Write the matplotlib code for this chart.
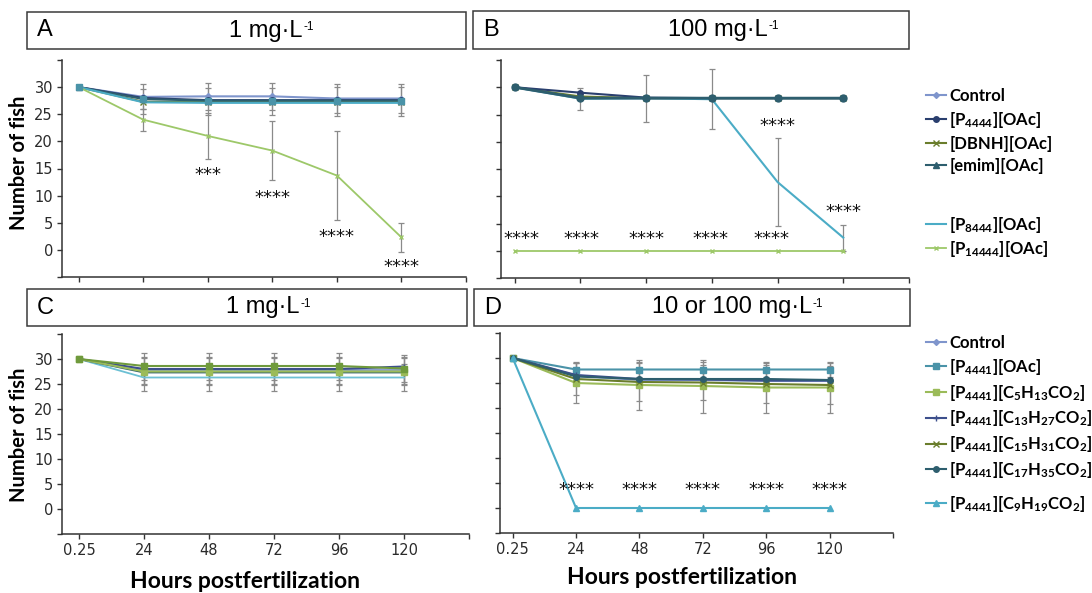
import numpy as np
import matplotlib
matplotlib.use("Agg")
import matplotlib.pyplot as plt
from matplotlib.patches import Rectangle
from matplotlib.text import Annotation

plt.rcParams['mathtext.fontset'] = 'custom'
plt.rcParams['mathtext.rm'] = 'Lato:bold'
plt.rcParams['mathtext.sf'] = 'Liberation Sans'
plt.rcParams['mathtext.default'] = 'rm'

# categorias del eje x (horas postfertilizacion)
hours = ['0.25', '24', '48', '72', '96', '120']

# Panel A: 1 mg/L
a_labels = ['Control', r'[P$_{4444}$][OAc]', '[DBNH][OAc]', '[emim][OAc]',
            r'[P$_{8444}$][OAc]', r'[P$_{14444}$][OAc]']
a_control = [30, 28.2, 28.3, 28.3, 27.9, 27.9]
a_p4444 = [30, 28.0, 27.6, 27.6, 27.6, 27.6]
a_dbnh = [30, 27.3, 27.3, 27.3, 27.3, 27.3]
a_emim = [30, 27.8, 27.5, 27.5, 27.5, 27.5]
a_p8444 = [30, 27.2, 27.1, 27.1, 27.1, 27.1]
a_p14444 = [30, 24.0, 21.0, 18.3, 13.7, 2.3]
a_err_small = [0, 2.3, 2.5, 2.5, 2.7, 2.7]
a_err_p14444 = [0, 2.0, 4.3, 5.5, 8.2, 2.6]

# Panel B: 100 mg/L
b_control = [30, 28.0, 28.0, 28.0, 28.0, 28.0]
b_p4444 = [30, 29.0, 28.1, 28.0, 28.0, 28.0]
b_dbnh = [30, 28.3, 28.0, 28.0, 28.0, 28.0]
b_emim = [30, 28.0, 28.0, 28.0, 28.0, 28.0]
b_p8444 = [30, 27.9, 28.0, 27.8, 12.6, 2.4]
b_p14444 = [0, 0, 0, 0, 0, 0]
b_err_p8444 = [0, 2.0, 4.3, 5.5, 8.0, 2.4]
b_err_small = [0, 0.3, 0.3, 0.3, 0.3, 0.3]

# Panel C: 1 mg/L (sales P4441)
c_control = [30, 27.8, 27.8, 27.8, 27.8, 27.8]
c_oac = [30, 26.3, 26.3, 26.3, 26.3, 26.3]
c_c5 = [30, 27.5, 27.5, 27.5, 27.5, 27.5]
c_c13 = [30, 28.0, 28.0, 28.0, 28.0, 28.5]
c_c15 = [30, 28.6, 28.6, 28.6, 28.6, 28.1]
c_c17 = [30, 27.3, 27.3, 27.3, 27.3, 27.3]
c_err = [0, 2.7, 2.7, 2.7, 2.7, 2.7]

# Panel D: 10 or 100 mg/L
d_labels = ['Control', r'[P$_{4441}$][OAc]', r'[P$_{4441}$][C$_{5}$H$_{13}$CO$_{2}$]',
            r'[P$_{4441}$][C$_{13}$H$_{27}$CO$_{2}$]', r'[P$_{4441}$][C$_{15}$H$_{31}$CO$_{2}$]',
            r'[P$_{4441}$][C$_{17}$H$_{35}$CO$_{2}$]', r'[P$_{4441}$][C$_{9}$H$_{19}$CO$_{2}$]']
d_control = [30, 26.5, 25.6, 25.6, 25.4, 25.4]
d_oac = [30, 27.7, 27.7, 27.7, 27.7, 27.7]
d_c5 = [30, 25.0, 24.6, 24.4, 24.1, 24.1]
d_c13 = [30, 26.6, 25.8, 25.7, 25.5, 25.5]
d_c15 = [30, 25.8, 25.2, 25.1, 24.8, 24.6]
d_c17 = [30, 26.3, 25.8, 25.8, 25.8, 25.6]
d_c9 = [30, 0, 0, 0, 0, 0]
d_err_c5 = [0, 4.0, 5.0, 5.3, 5.0, 5.0]
d_err_c15 = [0, 3.2, 3.8, 3.5, 3.8, 3.8]
d_err_oac = [0, 1.5, 1.5, 1.5, 1.5, 1.5]

# asteriscos de significancia (posicion x = indice de categoria, y = altura)
a_stars = [(2, 13.8, '***'), (3, 9.6, '****'), (4, 2.4, '****'), (5, -3.1, '****')]
b_stars = [(0.1, 2.2, '****'), (1.02, 2.2, '****'), (2.0, 2.2, '****'), (2.98, 2.2, '****'),
           (3.9, 2.2, '****'), (4.0, 22.9, '****'), (5.0, 7.2, '****')]
d_stars = [(1, 3.6, '****'), (2, 3.6, '****'), (3, 3.6, '****'), (4, 3.6, '****'), (5, 3.6, '****')]

col_control = '#7f95cc'
col_navy = '#2a3f6e'
col_olive = '#6a7d2c'
col_dteal = '#2e5e6e'
col_cyan = '#4bacc6'
col_lgreen = '#9dc869'
col_teal = '#4a93a8'
col_green5 = '#9bbb59'
col_navy13 = '#3d4f8c'
col_err = '#8a8a8a'

W, H = 1092, 593
fig = plt.figure(figsize=(W / 100, H / 100), dpi=100)
x = np.arange(len(hours))


def add_axes(px0, px1, py_top, py_bot):
    return fig.add_axes([px0 / W, 1 - py_bot / H, (px1 - px0) / W, (py_bot - py_top) / H])


def style_axes(ax, xmin, show_ylabels=True, show_xlabels=False):
    ax.set_xlim(xmin, 6.0)
    ax.set_ylim(-5, 35)
    ax.set_yticks(np.arange(-5, 36, 5))
    ax.set_yticklabels([str(v) if 0 <= v <= 30 and show_ylabels else '' for v in range(-5, 36, 5)],
                       fontsize=10.5, family='DejaVu Sans', color='#2a2a2a')
    ax.set_xticks(np.arange(7))
    if show_xlabels:
        ax.set_xticklabels(hours + [''], fontsize=10.5, family='DejaVu Sans', color='#2a2a2a')
    else:
        ax.set_xticklabels([''] * 7)
    ax.tick_params(axis='both', direction='out', length=3.5, width=1, color='#333333', pad=3)
    for s in ['top', 'right']:
        ax.spines[s].set_visible(False)
    for s in ['left', 'bottom']:
        ax.spines[s].set_color('#333333')
        ax.spines[s].set_linewidth(1.1)


def errs(ax, y, e):
    ax.errorbar(x, y, yerr=e, fmt='none', ecolor=col_err, elinewidth=0.9, capsize=2, capthick=0.9, zorder=1)


def stars(ax, lst):
    for sx, sy, s in lst:
        ax.text(sx, sy, s, ha='center', va='center', fontsize=13, family='DejaVu Sans', color='#111111')


def title_box(px0, px1, py0, py1, letter, title, tx):
    fig.add_artist(Rectangle((px0 / W, 1 - py1 / H), (px1 - px0) / W, (py1 - py0) / H,
                             transform=fig.transFigure, fill=False, edgecolor='#3a3a3a', lw=1.1))
    yc = 1 - (py0 + py1) / 2 / H
    fig.text((px0 + 10) / W, yc, letter, ha='left', va='center', fontsize=17, family='Liberation Sans')
    t = fig.text(tx / W, yc, title, ha='center', va='center', fontsize=17, family='Liberation Sans')
    sup = Annotation('-1', xy=(1, 1), xycoords=t, xytext=(0.5, -1), textcoords='offset points',
                     ha='left', va='top', fontsize=8.5, family='Liberation Sans')
    fig.add_artist(sup)


# ---------- Panel A ----------
axA = add_axes(62, 466, 60, 277)
for y in [a_control, a_dbnh]:
    errs(axA, y, a_err_small)
errs(axA, a_p14444, a_err_p14444)
lA = []
lA += axA.plot(x, a_control, color=col_control, lw=1.5, marker='D', ms=3)
lA += axA.plot(x, a_p4444, color=col_navy, lw=1.5, marker='o', ms=4)
lA += axA.plot(x, a_dbnh, color=col_olive, lw=1.5, marker='x', ms=4)
lA += axA.plot(x, a_emim, color=col_dteal, lw=1.5, marker='^', ms=4)
lA += axA.plot(x, a_p8444, color=col_cyan, lw=1.5)
lA += axA.plot(x, a_p14444, color=col_lgreen, lw=1.3, marker='x', ms=3)
axA.plot(x, a_emim, color=col_teal, lw=0, marker='s', ms=4)
style_axes(axA, -0.26)
stars(axA, a_stars)

# ---------- Panel B ----------
axB = add_axes(501, 909, 60, 278)
errs(axB, b_p8444, b_err_p8444)
errs(axB, b_control, b_err_small)
axB.plot(x, b_control, color=col_control, lw=1.5, marker='D', ms=3)
axB.plot(x, b_dbnh, color=col_olive, lw=1.5, marker='x', ms=4)
axB.plot(x, b_p8444, color=col_cyan, lw=1.5)
axB.plot(x, b_p4444, color=col_navy, lw=1.5, marker='o', ms=4)
axB.plot(x, b_emim, color=col_dteal, lw=2, marker='o', ms=5)
axB.plot(x, b_p14444, color=col_lgreen, lw=1.3, marker='x', ms=3)
style_axes(axB, -0.21, show_ylabels=False)
stars(axB, b_stars)

# ---------- Panel C ----------
axC = add_axes(62, 469, 334, 534)
for y in [c_control, c_oac, c_c5, c_c15]:
    errs(axC, y, c_err)
axC.plot(x, c_oac, color='#6cc0d4', lw=1.3)
axC.plot(x, c_c17, color=col_dteal, lw=1.3, marker='o', ms=3)
axC.plot(x, c_control, color=col_control, lw=1.3, marker='D', ms=3)
axC.plot(x, c_c13, color=col_navy13, lw=1.5, marker='+', ms=4)
axC.plot(x, c_c5, color=col_green5, lw=1.5, marker='s', ms=4)
axC.plot(x, c_c15, color='#6f9a3c', lw=1.5, marker='s', ms=4)
style_axes(axC, -0.26, show_xlabels=True)

# ---------- Panel D ----------
axD = add_axes(500, 893, 333, 533)
errs(axD, d_c5, d_err_c5)
errs(axD, d_c15, d_err_c15)
errs(axD, d_oac, d_err_oac)
lD = []
lD += axD.plot(x, d_control, color=col_control, lw=1.5, marker='D', ms=3)
lD += axD.plot(x, d_oac, color=col_teal, lw=1.5, marker='s', ms=5)
lD += axD.plot(x, d_c5, color=col_green5, lw=1.5, marker='s', ms=4)
lD += axD.plot(x, d_c13, color=col_navy13, lw=1.5, marker='+', ms=4)
lD += axD.plot(x, d_c15, color=col_olive, lw=1.5, marker='x', ms=4)
lD += axD.plot(x, d_c17, color=col_dteal, lw=1.5, marker='o', ms=4)
lD += axD.plot(x, d_c9, color=col_cyan, lw=1.5, marker='^', ms=4)
style_axes(axD, -0.2, show_ylabels=False, show_xlabels=True)
stars(axD, d_stars)

# ---------- cajas de titulo ----------
title_box(27, 466, 12, 49, 'A', '1 mg·L', 266)
title_box(473, 909, 11, 49, 'B', '100 mg·L', 718)
title_box(27, 467, 289, 326, 'C', '1 mg·L', 263)
title_box(474, 910, 289, 326, 'D', '10 or 100 mg·L', 732)

# ---------- etiquetas de ejes ----------
for yc in [163, 435]:
    fig.text(19 / W, 1 - yc / H, 'Number of fish', rotation=90, ha='center', va='center',
             fontsize=14.5, family='Lato', weight='bold')
fig.text(245 / W, 1 - 581 / H, 'Hours postfertilization', ha='center', va='center',
         fontsize=16.5, family='Lato', weight='bold')
fig.text(682 / W, 1 - 578 / H, 'Hours postfertilization', ha='center', va='center',
         fontsize=16.5, family='Lato', weight='bold')

# ---------- leyendas ----------
leg_kw = dict(frameon=False, prop={'family': 'Lato', 'weight': 'bold', 'size': 12},
              handlelength=1.2, handletextpad=0.2, borderaxespad=0, borderpad=0)
fig.legend(lA[:4], a_labels[:4], loc='upper left', bbox_to_anchor=(926 / W, 1 - 88 / H),
           labelspacing=0.35, **leg_kw)
fig.legend(lA[4:], a_labels[4:], loc='upper left', bbox_to_anchor=(926 / W, 1 - 215 / H),
           labelspacing=0.25, **leg_kw)
fig.legend(lD[:6], d_labels[:6], loc='upper left', bbox_to_anchor=(926 / W, 1 - 335 / H),
           labelspacing=0.35, **leg_kw)
fig.legend(lD[6:], d_labels[6:], loc='upper left', bbox_to_anchor=(926 / W, 1 - 494 / H),
           **leg_kw)

fig.savefig('out.png', dpi=100)
